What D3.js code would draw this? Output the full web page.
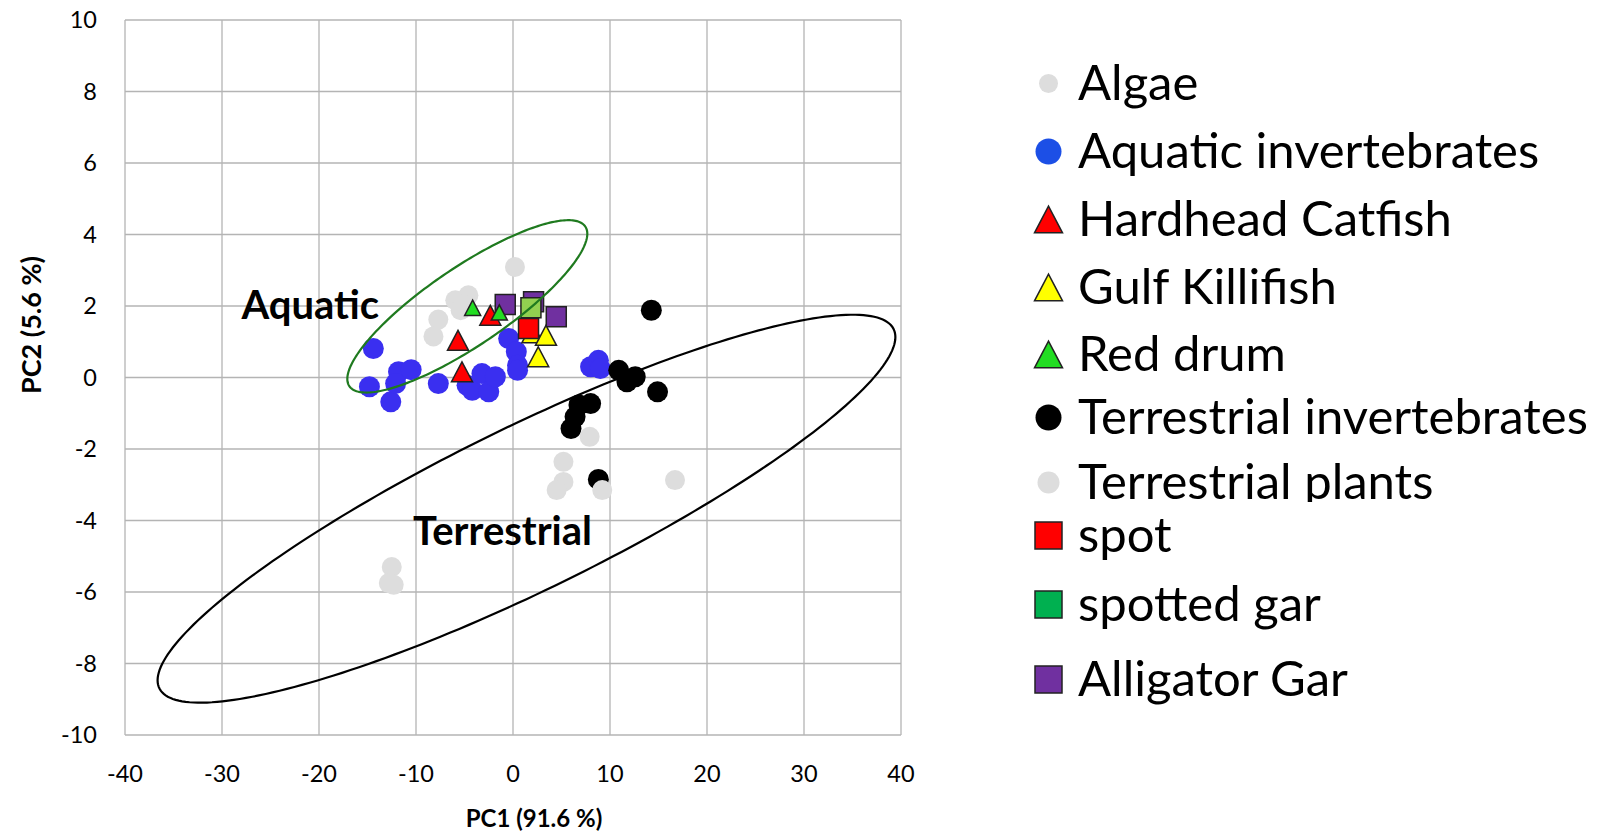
<!DOCTYPE html>
<html>
<head>
<meta charset="utf-8">
<script src="https://cdn.jsdelivr.net/npm/d3@7"></script>
<style>
  html, body { margin: 0; padding: 0; background: #ffffff; }
  svg { display: block; }
  text { font-family: Lato, "Open Sans", sans-serif; fill: #000; }
</style>
</head>
<body>
<svg id="chart" width="1604" height="836"></svg>
<script>
// ---------------- data ----------------
const xTicks = [-40, -30, -20, -10, 0, 10, 20, 30, 40];
const yTicks = [-10, -8, -6, -4, -2, 0, 2, 4, 6, 8, 10];
const xLabel = "PC1 (91.6 %)";
const yLabel = "PC2 (5.6 %)";

const algae = [[0.2, 3.09], [-5.95, 2.16], [-4.6, 2.3], [-5.2, 2.05], [-5.4, 1.88], [-7.7, 1.62], [-8.2, 1.15]];
const aquaticInvertebrates = [
  [-14.4, 0.81], [-14.8, -0.26], [-12.6, -0.68], [-11.8, 0.16], [-10.5, 0.22], [-12.1, -0.17],
  [-7.7, -0.17], [-4.74, -0.22], [-4.2, -0.36], [-3.2, 0.11], [-2.5, -0.4], [-1.82, 0.02],
  [-0.45, 1.09], [0.34, 0.72], [0.47, 0.34], [0.47, 0.2], [8.0, 0.3], [8.8, 0.48], [9.0, 0.25]
];
const hardheadCatfish = [[-2.34, 1.74], [-5.67, 1.04], [-5.26, 0.16]];
const gulfKillifish = [[2.0, 1.25], [3.4, 1.18], [2.6, 0.58]];
const redDrum = [[-4.16, 1.95], [-1.41, 1.82]];
const terrestrialInvertebrates = [
  [14.26, 1.88], [10.9, 0.2], [12.6, 0.02], [11.75, -0.12], [14.9, -0.4],
  [8.0, -0.73], [6.8, -0.77], [6.4, -1.1], [5.98, -1.43], [8.8, -2.85]
];
const terrestrialPlants = [
  [7.9, -1.66], [5.2, -2.36], [5.2, -2.92], [4.5, -3.15], [9.2, -3.15], [16.7, -2.87],
  [-12.5, -5.3], [-12.3, -5.8], [-12.8, -5.75]
];
const spot = [[1.6, 1.37]];
const spottedGar = [[1.85, 1.95]];
const alligatorGar = [[-0.8, 2.04], [2.12, 2.12], [4.46, 1.7]];

// ellipses: centre x, centre y, x half-range, y shift along it, y half-thickness
const aquaticEllipse = [-4.71, 1.99, 12.37, 2.03, 1.30];
const terrestrialEllipse = [1.39, -3.67, 38.03, 4.80, 2.53];
const regionLabels = ["Aquatic", "Terrestrial"];
const regionLabelPos = [[-28.0, 1.63], [-10.3, -4.69]];

// ---------------- layout / style ----------------
const svg = d3.select("#chart");
const plot = { left: 125, right: 901, top: 20, bottom: 735 };
const x = d3.scaleLinear().domain([-40, 40]).range([plot.left, plot.right]);
const y = d3.scaleLinear().domain([-10, 10]).range([plot.bottom, plot.top]);

const series = [
  { name: "Algae", data: algae, shape: "circle", size: 10, fill: "#dddddd", stroke: "none", lsize: 9.5, lfill: "#dddddd" },
  { name: "Aquatic invertebrates", data: aquaticInvertebrates, shape: "circle", size: 10.5, fill: "#3a2ff0", stroke: "none", lsize: 13, lfill: "#1c4fe6" },
  { name: "Hardhead Catfish", data: hardheadCatfish, shape: "triangle", size: 21, fill: "#ff0000", stroke: "#222", lsize: 28, lfill: "#ff0000" },
  { name: "Gulf Killifish", data: gulfKillifish, shape: "triangle", size: 21, fill: "#ffff00", stroke: "#222", lsize: 28, lfill: "#ffff00" },
  { name: "Red drum", data: redDrum, shape: "triangle", size: 16, fill: "#22dd22", stroke: "#222", lsize: 28, lfill: "#22dd22" },
  { name: "Terrestrial invertebrates", data: terrestrialInvertebrates, shape: "circle", size: 10.5, fill: "#000000", stroke: "none", lsize: 13, lfill: "#000000" },
  { name: "Terrestrial plants", data: terrestrialPlants, shape: "circle", size: 10, fill: "#dddddd", stroke: "none", lsize: 11, lfill: "#dddddd" },
  { name: "spot", data: spot, shape: "square", size: 20, fill: "#ff0000", stroke: "#222", lsize: 27, lfill: "#ff0000" },
  { name: "spotted gar", data: spottedGar, shape: "square", size: 20, fill: "#92d050", stroke: "#222", lsize: 27, lfill: "#00b050" },
  { name: "Alligator Gar", data: alligatorGar, shape: "square", size: 20, fill: "#7030a0", stroke: "#222", lsize: 27, lfill: "#7030a0" }
];
// drawing order on the plot (indices into series)
const drawOrder = [0, 9, 1, 2, 3, 4, 5, 6, 7, 8];

function shapePath(shape, s) {
  if (shape === "triangle") {
    const h = s * 0.95;
    return `M0,${-h / 2}L${s / 2},${h / 2}L${-s / 2},${h / 2}Z`;
  }
  return `M${-s / 2},${-s / 2}H${s / 2}V${s / 2}H${-s / 2}Z`;
}
function drawMarker(g, shape, s, fill, stroke, cx, cy) {
  if (shape === "circle") {
    g.append("circle").attr("cx", cx).attr("cy", cy).attr("r", s).attr("fill", fill);
  } else {
    g.append("path").attr("d", shapePath(shape, s))
      .attr("transform", `translate(${cx},${cy})`)
      .attr("fill", fill).attr("stroke", stroke).attr("stroke-width", 1.5)
      .attr("stroke-linejoin", "miter");
  }
}

// ---------------- grid ----------------
const grid = svg.append("g");
grid.selectAll("line.v").data(xTicks).join("line")
  .attr("x1", d => x(d)).attr("x2", d => x(d))
  .attr("y1", plot.top).attr("y2", plot.bottom)
  .attr("stroke", "#b4b4b4").attr("stroke-width", 1.3);
grid.selectAll("line.h").data(yTicks).join("line")
  .attr("y1", d => y(d)).attr("y2", d => y(d))
  .attr("x1", plot.left).attr("x2", plot.right)
  .attr("stroke", "#b4b4b4").attr("stroke-width", 1.3);

// tick labels
svg.append("g").selectAll("text").data(yTicks).join("text")
  .attr("x", 97).attr("y", d => y(d)).attr("dy", "0.36em")
  .attr("text-anchor", "end").attr("font-size", 23.5).attr("fill", "#262626")
  .text(d => d);
svg.append("g").selectAll("text").data(xTicks).join("text")
  .attr("x", d => x(d)).attr("y", 774).attr("dy", "0.36em")
  .attr("text-anchor", "middle").attr("font-size", 23.5).attr("fill", "#262626")
  .text(d => d);

// axis titles
svg.append("text").attr("x", 534).attr("y", 818).attr("dy", "0.36em")
  .attr("text-anchor", "middle").attr("font-size", 24).attr("font-weight", "bold")
  .text(xLabel);
svg.append("text").attr("transform", "translate(31,325) rotate(-90)")
  .attr("dy", "0.36em").attr("text-anchor", "middle")
  .attr("font-size", 27).attr("font-weight", "bold")
  .text(yLabel);

// ---------------- ellipses ----------------
function ellipsePoints(e) {
  const pts = [];
  for (let i = 0; i < 240; i++) {
    const t = (i / 240) * 2 * Math.PI;
    pts.push([e[0] + e[2] * Math.cos(t), e[1] + e[3] * Math.cos(t) - e[4] * Math.sin(t)]);
  }
  return pts;
}
const ell = d3.line().x(d => x(d[0])).y(d => y(d[1])).curve(d3.curveLinearClosed);

// ---------------- points ----------------
const pts = svg.append("g");
drawOrder.forEach(i => {
  const s = series[i];
  s.data.forEach(d => drawMarker(pts, s.shape, s.size, s.fill, s.stroke, x(d[0]), y(d[1])));
});

svg.append("path").attr("d", ell(ellipsePoints(terrestrialEllipse)))
  .attr("fill", "none").attr("stroke", "#000").attr("stroke-width", 2.2);
svg.append("path").attr("d", ell(ellipsePoints(aquaticEllipse)))
  .attr("fill", "none").attr("stroke", "#1f7a1f").attr("stroke-width", 2.2);

// region labels
svg.append("g").selectAll("text").data(regionLabels).join("text")
  .attr("x", (d, i) => x(regionLabelPos[i][0]))
  .attr("y", (d, i) => y(regionLabelPos[i][1]))
  .attr("font-size", 40).attr("font-weight", "bold")
  .text(d => d);

// ---------------- legend ----------------
const legendBaselines = [100, 168, 236, 304, 371, 434, 499, 552, 621, 696];
const defs = svg.append("defs");
defs.append("clipPath").attr("id", "clipPlants")
  .append("rect").attr("x", 1060).attr("y", 440).attr("width", 544).attr("height", 62);
const leg = svg.append("g");
series.forEach((s, i) => {
  const by = legendBaselines[i];
  const cy = by - 16.5;
  const g = leg.append("g");
  drawMarker(g, s.shape, s.lsize, s.lfill, s.stroke, 1048.5, cy);
  const t = g.append("text").attr("x", 1078).attr("y", by)
    .attr("font-size", 49).text(s.name);
  if (s.name === "Terrestrial plants") t.attr("clip-path", "url(#clipPlants)");
});
</script>
</body>
</html>
